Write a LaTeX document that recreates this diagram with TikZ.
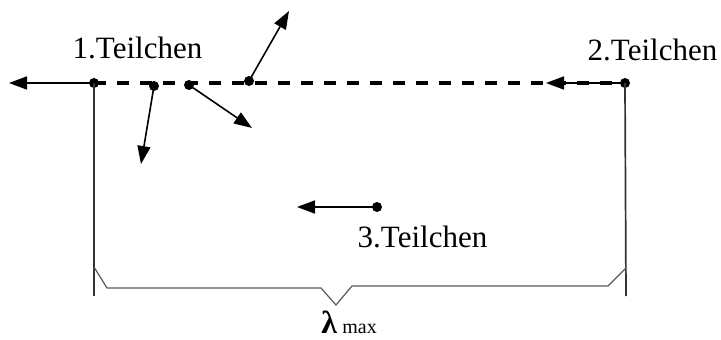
\documentclass[tikz,border=0pt]{standalone}
\usepackage{fontspec}
\setmainfont{Liberation Serif}
\usetikzlibrary{arrows.meta}
\begin{document}
\begin{tikzpicture}[x=1pt,y=-1pt,
  particle/.style={circle,fill=black,inner sep=0pt,minimum size=10pt},
  vel/.style={line width=1.6pt,-{Triangle[length=18pt,width=13pt]}},
  track/.style={line width=3.4pt,dash pattern=on 12pt off 11pt},
  wall/.style={line width=1.7pt,black!80},
  bracecurve/.style={line width=1.2pt,black!65},
  label/.style={font=\fontsize{31}{36}\selectfont,inner sep=0pt,anchor=base}]
  \useasboundingbox (0,0) rectangle (721,340);

  % particles on the line
  \node[particle] (p1) at (94,83) {};
  \node[particle] (p2) at (625,83) {};
  \node[particle] (pa) at (154,86) {};
  \node[particle] (pb) at (189,85) {};
  \node[particle] (pc) at (249,81) {};
  \node[particle] (p3) at (377,207) {};

  % arrow tips
  \coordinate (t1) at (9,83);
  \coordinate (t2) at (546,83);
  \coordinate (ta) at (141,164);
  \coordinate (tb) at (252,128);
  \coordinate (tc) at (289,11);
  \coordinate (t3) at (297,207);

  % dashed connection between particle 1 and 2
  \draw[track] (p1.center) -- (p2.center);

  % velocities
  \draw[vel] (p1.center) -- (t1);
  \draw[vel] (p2.center) -- (t2);
  \draw[vel] (pa.center) -- (ta);
  \draw[vel] (pb.center) -- (tb);
  \draw[vel] (pc.center) -- (tc);
  \draw[vel] (p3.center) -- (t3);

  % vertical walls
  \coordinate (w1) at (94,296);
  \coordinate (w2) at (626,296);
  \draw[wall] (p1.center) -- (w1);
  \draw[wall] (p2.center) -- (w2);

  % brace
  \coordinate (b0) at (94,267);
  \coordinate (b1) at (107,288);
  \coordinate (b2) at (321,288);
  \coordinate (bt) at (336,305);
  \coordinate (b3) at (352,286);
  \coordinate (b4) at (608,286);
  \coordinate (b5) at (626,268);
  \draw[bracecurve] (b0) -- (b1) -- (b2) -- (bt) -- (b3) -- (b4) -- (b5);

  % labels
  \node[label] (l1) at (137.5,58) {1.Teilchen};
  \node[label] (l2) at (652.5,60) {2.Teilchen};
  \node[label] (l3) at (422.5,247) {3.Teilchen};
  \node[inner sep=0pt,anchor=base] (lam) at (349,333)
    {\fontsize{32}{36}\selectfont\bfseries λ\,\fontsize{20}{22}\selectfont\mdseries max};
\end{tikzpicture}
\end{document}
